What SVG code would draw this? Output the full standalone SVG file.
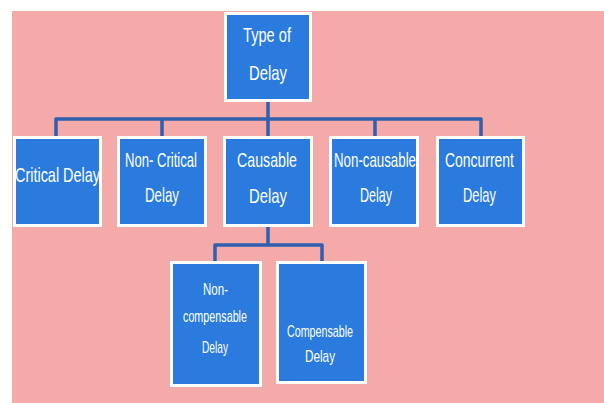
<svg xmlns="http://www.w3.org/2000/svg" width="604" height="403" viewBox="0 0 604 403">
<style>
.bg{fill:#f4aaa8}
.box{fill:#2a7bdd;stroke:#ffffff;stroke-width:3}
.t{fill:#ffffff;font-family:"Liberation Sans",Arial,sans-serif;font-size:21px;text-anchor:middle}
.s{fill:#ffffff;font-family:"Liberation Sans",Arial,sans-serif;font-size:17px;text-anchor:middle}
.c{fill:none;stroke:#2f5fae;stroke-width:3.5;stroke-linejoin:round}
</style>
<rect x="0" y="0" width="604" height="403" fill="#ffffff"/>
<rect class="bg" x="12" y="11" width="592" height="392"/>
<g id="connectors">
<path class="c" d="M268 102 V119 M56 137 V119 H481 V137 M162 119 V137 M268 119 V137 M375 119 V137"/>
<path class="c" d="M268 227 V245 M215 261 V245 H322 V261"/>
</g>
<g id="type-of-delay">
<rect class="box" x="225.5" y="13.5" width="85" height="87"/>
<text class="t" x="267" y="42" textLength="48" lengthAdjust="spacingAndGlyphs">Type of</text>
<text class="t" x="268" y="80" textLength="38" lengthAdjust="spacingAndGlyphs">Delay</text>
</g>
<g id="critical-delay">
<rect class="box" x="14.5" y="137.5" width="86" height="88"/>
<text class="t" x="57.5" y="182" textLength="85" lengthAdjust="spacingAndGlyphs">Critical Delay</text>
</g>
<g id="non-critical-delay">
<rect class="box" x="118.5" y="137.5" width="87" height="88"/>
<text class="t" x="161" y="167" textLength="72" lengthAdjust="spacingAndGlyphs">Non- Critical</text>
<text class="t" x="162" y="202" textLength="34" lengthAdjust="spacingAndGlyphs">Delay</text>
</g>
<g id="causable-delay">
<rect class="box" x="224.5" y="137.5" width="87" height="88"/>
<text class="t" x="267" y="167" textLength="60" lengthAdjust="spacingAndGlyphs">Causable</text>
<text class="t" x="268" y="203" textLength="38" lengthAdjust="spacingAndGlyphs">Delay</text>
</g>
<g id="non-causable-delay">
<rect class="box" x="330.5" y="137.5" width="87" height="88"/>
<text class="t" x="375" y="167" textLength="82" lengthAdjust="spacingAndGlyphs">Non-causable</text>
<text class="t" x="376" y="202" textLength="32" lengthAdjust="spacingAndGlyphs">Delay</text>
</g>
<g id="concurrent-delay">
<rect class="box" x="437.5" y="137.5" width="86" height="88"/>
<text class="t" x="479.5" y="167" textLength="69" lengthAdjust="spacingAndGlyphs">Concurrent</text>
<text class="t" x="479.5" y="202" textLength="33" lengthAdjust="spacingAndGlyphs">Delay</text>
</g>
<g id="non-compensable-delay">
<rect class="box" x="171.5" y="262.5" width="89" height="123"/>
<text class="s" x="215.5" y="295" textLength="25" lengthAdjust="spacingAndGlyphs">Non-</text>
<text class="s" x="215" y="322" textLength="64" lengthAdjust="spacingAndGlyphs">compensable</text>
<text class="s" x="215" y="353" textLength="26" lengthAdjust="spacingAndGlyphs">Delay</text>
</g>
<g id="compensable-delay">
<rect class="box" x="277.5" y="262.5" width="88" height="120"/>
<text class="s" x="320" y="337" textLength="66" lengthAdjust="spacingAndGlyphs">Compensable</text>
<text class="s" x="320" y="362" textLength="30" lengthAdjust="spacingAndGlyphs">Delay</text>
</g>
</svg>
